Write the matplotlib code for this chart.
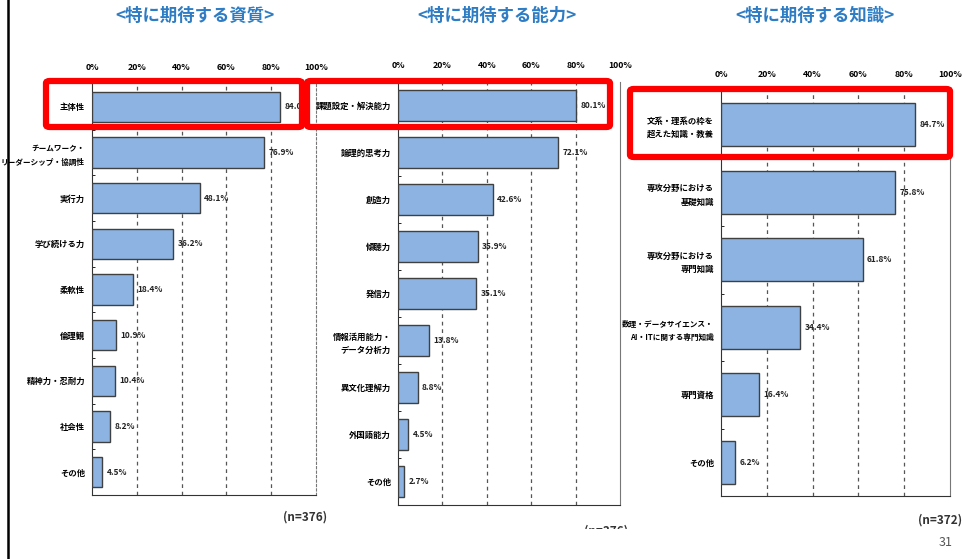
import numpy as np
import matplotlib.pyplot as plt
from matplotlib.patches import FancyBboxPatch, Rectangle
from matplotlib.lines import Line2D

plt.rcParams['font.family'] = ['Noto Sans CJK JP', 'DejaVu Sans']

# データ
titles = ['<特に期待する資質>', '<特に期待する能力>', '<特に期待する知識>']

labels1 = ['主体性', 'チームワーク・\nリーダーシップ・協調性', '実行力', '学び続ける力',
           '柔軟性', '倫理観', '精神力・忍耐力', '社会性', 'その他']
values1 = [84.0, 76.9, 48.1, 36.2, 18.4, 10.9, 10.4, 8.2, 4.5]

labels2 = ['課題設定・解決能力', '論理的思考力', '創造力', '傾聴力', '発信力',
           '情報活用能力・\nデータ分析力', '異文化理解力', '外国語能力', 'その他']
values2 = [80.1, 72.1, 42.6, 35.9, 35.1, 13.8, 8.8, 4.5, 2.7]

labels3 = ['文系・理系の枠を\n超えた知識・教養', '専攻分野における\n基礎知識',
           '専攻分野における\n専門知識', '数理・データサイエンス・\nAI・ITに関する専門知識',
           '専門資格', 'その他']
values3 = [84.7, 75.8, 61.8, 34.4, 16.4, 6.2]

ticks = [0, 20, 40, 60, 80, 100]
tick_labels = ['0%', '20%', '40%', '60%', '80%', '100%']

bar_color = '#8DB3E2'
title_color = '#2E7DC4'

fig = plt.figure(figsize=(9.64, 5.59), dpi=100)

panels = [
    (labels1, values1, [0.0954, 0.1145, 0.2324, 0.7352], 0.66, 195, 'dashed'),
    (labels2, values2, [0.4129, 0.0966, 0.2303, 0.7567], 0.66, 497, 'solid'),
    (labels3, values3, [0.7479, 0.1127, 0.2376, 0.7245], 0.63, 815, 'solid'),
]

for (labels, values, pos, bh, tx, rstyle), title in zip(panels, titles):
    ax = fig.add_axes(pos)
    y = np.arange(len(labels))
    ax.barh(y, values, height=bh, color=bar_color, edgecolor='#404040', linewidth=1.0, zorder=3)
    for yi, v in zip(y, values):
        ax.text(v + 2, yi, f'{v:.1f}%', va='center', ha='left', fontsize=6,
                fontweight='bold', color='#222222')
    ax.set_xlim(0, 100)
    ax.set_ylim(len(labels) - 0.5, -0.5)
    ax.set_yticks(y)
    ax.set_yticklabels(labels, fontsize=6, fontweight='bold', linespacing=1.6)
    # 長いラベルは少し小さく
    for t in ax.get_yticklabels():
        if max(len(s) for s in t.get_text().split('\n')) > 10:
            t.set_fontsize(5.5)
    ax.set_xticks(ticks)
    ax.set_xticklabels(tick_labels, fontsize=6.3, fontweight='bold')
    ax.xaxis.tick_top()
    ax.tick_params(axis='x', length=0, pad=9)
    ax.tick_params(axis='y', length=0, pad=5)
    ax.set_yticks(np.arange(len(labels) - 1) + 0.5, minor=True)
    ax.tick_params(axis='y', which='minor', length=2, direction='in', color='black')
    for gx in [20, 40, 60, 80]:
        ax.axvline(gx, color='#555555', linestyle=(0, (3, 3)), linewidth=0.9, zorder=1)
    ax.spines['top'].set_visible(False)
    ax.spines['right'].set_color('#777777')
    ax.spines['right'].set_linewidth(0.8)
    if rstyle == 'dashed':
        ax.spines['right'].set_linestyle((0, (2, 2)))
    ax.spines['left'].set_color('#333333')
    ax.spines['bottom'].set_color('#333333')
    fig.text(tx / 964, 1 - 16 / 559, title, ha='center', va='center', fontsize=12.5,
             fontweight='bold', color=title_color)

# 注記
fig.text(327 / 964, 1 - 517 / 559, '(n=376)', ha='right', va='center', fontsize=8.5,
         fontweight='bold', color='#333333')
fig.text(628 / 964, 1 - 531 / 559, '(n=376)', ha='right', va='center', fontsize=8.5,
         fontweight='bold', color='#333333', zorder=1)
fig.patches.append(Rectangle((560 / 964, 0), 80 / 964, 1 - 529 / 559,
                             transform=fig.transFigure, facecolor='white',
                             edgecolor='none', zorder=2))
fig.text(962 / 964, 1 - 520 / 559, '(n=372)', ha='right', va='center', fontsize=8.5,
         fontweight='bold', color='#333333', zorder=3)
fig.text(953 / 964, 1 - 542 / 559, '31', ha='right', va='center', fontsize=9,
         color='#555555', zorder=3)

# 赤枠
boxes = [(46, 81, 256, 46), (307, 81, 303, 46), (630, 89, 320, 68)]
for bx, by, bw, bhh in boxes:
    fig.patches.append(FancyBboxPatch((bx / 964, 1 - (by + bhh) / 559), bw / 964, bhh / 559,
                                      boxstyle='round,pad=0,rounding_size=0.004',
                                      transform=fig.transFigure, facecolor='none',
                                      edgecolor='#FF0000', linewidth=4.5, zorder=5))

# 左端の黒線
fig.lines.append(Line2D([8 / 964, 8 / 964], [0, 1], transform=fig.transFigure,
                        color='black', linewidth=1.8))

plt.savefig('out.png', dpi=100)
